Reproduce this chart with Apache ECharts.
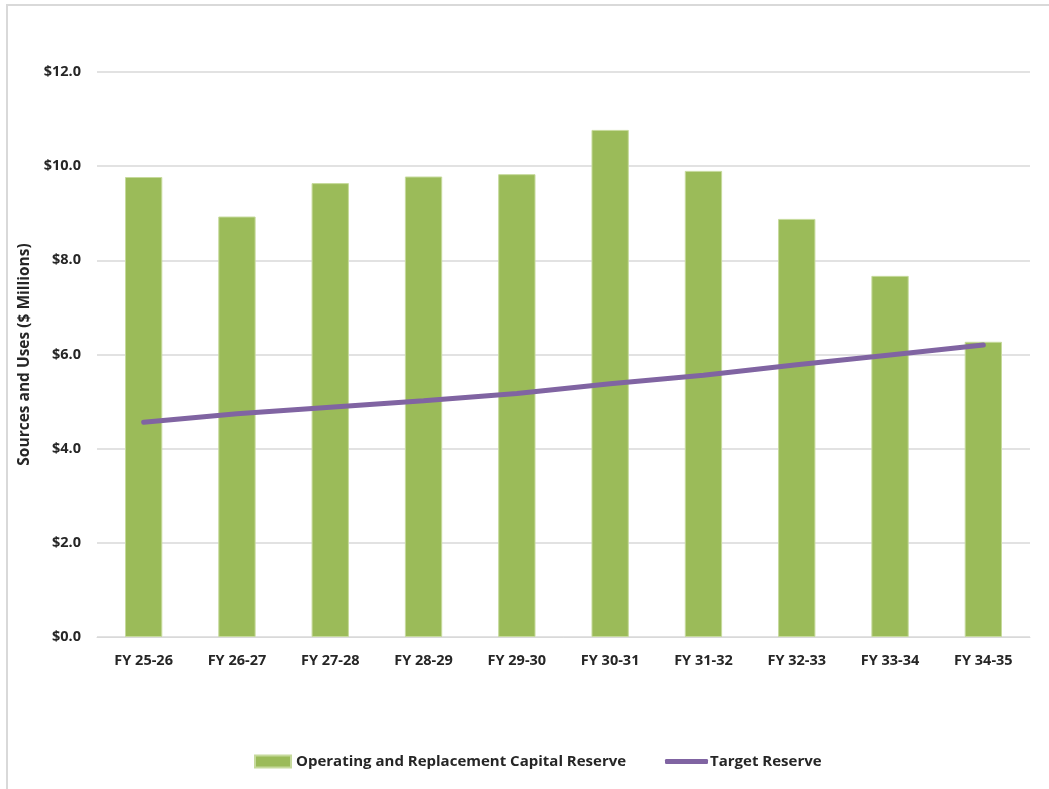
<!DOCTYPE html>
<html>
<head>
<meta charset="utf-8">
<script src="https://cdn.jsdelivr.net/npm/echarts@6/dist/echarts.min.js"></script>
<style>
  html, body { margin: 0; padding: 0; background: #fff; }
  #chart { width: 1049px; height: 789px; }
</style>
</head>
<body>
<div id="chart"></div>
<script>
// Fiscal years shown along the x axis
const categories = ['FY 25-26', 'FY 26-27', 'FY 27-28', 'FY 28-29', 'FY 29-30',
                    'FY 30-31', 'FY 31-32', 'FY 32-33', 'FY 33-34', 'FY 34-35'];
// Reserve balances, $ millions
const reserveValues = [9.77, 8.93, 9.64, 9.78, 9.83, 10.77, 9.90, 8.88, 7.67, 6.27];
// Target reserve level, $ millions
const targetValues = [4.56, 4.74, 4.88, 5.02, 5.17, 5.38, 5.56, 5.78, 5.99, 6.20];
const yTicks = { min: 0, max: 12, interval: 2 };

const FONT = "'Open Sans', 'Noto Sans', 'Liberation Sans', sans-serif";
const TEXT = '#262626';
const GREEN = '#9BBB59';
const PURPLE = '#8064A2';
const legendText = { fontFamily: FONT, fontWeight: 'bold', fontSize: 15, color: TEXT };

const chart = echarts.init(document.getElementById('chart'), null, { renderer: 'canvas' });

chart.setOption({
  animation: false,
  backgroundColor: '#ffffff',
  graphic: [{
    type: 'rect',
    shape: { x: 7, y: 5, width: 1100, height: 900 },
    style: { fill: 'none', stroke: '#d9d9d9', lineWidth: 2 },
    silent: true
  }],
  grid: { left: 97, right: 19, top: 72, bottom: 152, containLabel: false },
  legend: [
    {
      left: 249, top: 749,
      itemWidth: 36, itemHeight: 12,
      textStyle: legendText,
      data: [{ name: 'Operating and Replacement Capital Reserve', icon: 'rect' }]
    },
    {
      left: 660, top: 749,
      itemWidth: 43, itemHeight: 5,
      textStyle: Object.assign({}, legendText, { padding: [0, 0, 0, -3] }),
      data: [{ name: 'Target Reserve', icon: 'roundRect', itemStyle: { color: PURPLE } }]
    }
  ],
  xAxis: {
    type: 'category',
    data: categories,
    axisLine: { show: true, lineStyle: { color: '#d9d9d9', width: 1 } },
    axisTick: { show: false },
    axisLabel: { margin: 16, fontFamily: FONT, fontWeight: 'bold', fontSize: 14.5, color: TEXT }
  },
  yAxis: {
    type: 'value',
    min: yTicks.min,
    max: yTicks.max,
    interval: yTicks.interval,
    name: 'Sources and Uses ($ Millions)',
    nameLocation: 'middle',
    nameGap: 61,
    nameRotate: 90,
    nameTextStyle: { fontFamily: FONT, fontWeight: 'bold', fontSize: 15.5, color: TEXT },
    axisLine: { show: false },
    axisTick: { show: false },
    splitLine: { lineStyle: { color: '#d9d9d9', width: 1.5 } },
    axisLabel: {
      margin: 16, fontFamily: FONT, fontWeight: 'bold', fontSize: 14.5, color: TEXT,
      formatter: v => '$' + v.toFixed(1)
    }
  },
  series: [
    {
      name: 'Operating and Replacement Capital Reserve',
      type: 'bar',
      data: reserveValues,
      barWidth: '40%',
      itemStyle: { color: GREEN, borderColor: '#c6da9c', borderWidth: 1 }
    },
    {
      name: 'Target Reserve',
      type: 'line',
      data: targetValues,
      symbol: 'none',
      lineStyle: { color: PURPLE, width: 5, cap: 'round' },
      itemStyle: { color: PURPLE }
    }
  ]
});
</script>
</body>
</html>
